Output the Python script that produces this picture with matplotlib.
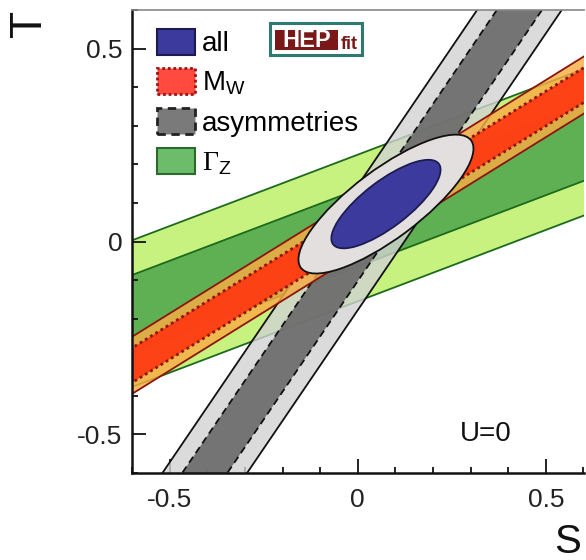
import numpy as np
import matplotlib
matplotlib.use('Agg')
import matplotlib.pyplot as plt
from matplotlib.patches import Ellipse, Patch, Rectangle

plt.rcParams['font.family'] = ['Liberation Sans', 'DejaVu Sans']
plt.rcParams['mathtext.fontset'] = 'custom'
plt.rcParams['mathtext.rm'] = 'Liberation Serif'
plt.rcParams['mathtext.sf'] = 'Liberation Sans'
plt.rcParams['mathtext.it'] = 'Liberation Sans:italic'

# ---------------- data ----------------
x_ticks = [-0.5, 0.0, 0.5]
x_ticklabels = ['-0.5', '0', '0.5']
y_ticks = [-0.5, 0.0, 0.5]
y_ticklabels = ['-0.5', '0', '0.5']

# Gamma_Z band: T = intercept + slope * S, half widths (95%, 68%)
gz_slope = 0.37
gz_intercept = 0.035
gz_halfwidth = [0.19, 0.10]

# M_W band: T = intercept + slope * S, half widths (95%, 68%)
mw_slope = 0.605
mw_intercept = 0.042
mw_halfwidth = [0.074, 0.045]

# asymmetries band: S = intercept + slope * T, half widths (95%, 68%)
asym_slope = 0.697
asym_intercept = 0.0115
asym_halfwidth = [0.1125, 0.06]

# combined fit ellipses (95%, 68%)
all_center = [0.075, 0.097]
all_semi_major = [0.28, 0.175]
all_semi_minor = [0.09, 0.06]
all_angle = [36.0, 36.5]

legend_labels = ['all', 'M$_\\mathsf{W}$', 'asymmetries', '$\\Gamma_\\mathsf{Z}$']

# ---------------- figure ----------------
fig = plt.figure(figsize=(5.86, 5.6), dpi=100)
ax = fig.add_axes([132 / 586, 1 - 473 / 560, (583.5 - 132) / 586, (473 - 10) / 560])
ax.set_xlim(-0.6, 0.6)
ax.set_ylim(-0.6, 0.6)

S = np.linspace(-0.8, 0.8, 500)
T = np.linspace(-0.8, 0.8, 500)

# Gamma_Z (green)
gz_cols = ['#c8f27f', '#5fb052']
for h, c in zip(gz_halfwidth, gz_cols):
    lo = gz_intercept + gz_slope * S - h
    hi = gz_intercept + gz_slope * S + h
    ax.fill_between(S, lo, hi, color=c, lw=0, zorder=1)
    ax.plot(S, lo, color='#1d6a1d', lw=1.3, zorder=1.1)
    ax.plot(S, hi, color='#1d6a1d', lw=1.3, zorder=1.1)

# asymmetries (gray)
as_cols = ['#d2d2d2', '#696969']
as_alpha = [0.8, 0.9]
for i, (h, c, a) in enumerate(zip(asym_halfwidth, as_cols, as_alpha)):
    lo = asym_intercept + asym_slope * T - h
    hi = asym_intercept + asym_slope * T + h
    ax.fill_betweenx(T, lo, hi, color=c, alpha=a, lw=0, zorder=2)
    ls = '-' if i == 0 else (0, (4, 2.5))
    ax.plot(lo, T, color='#111111', lw=1.3, ls=ls, zorder=2.1)
    ax.plot(hi, T, color='#111111', lw=1.3, ls=ls, zorder=2.1)

# M_W (orange / red)
mw_cols = ['#f9ad45', '#ff3a12']
mw_alpha = [0.82, 0.93]
for i, (h, c, a) in enumerate(zip(mw_halfwidth, mw_cols, mw_alpha)):
    lo = mw_intercept + mw_slope * S - h
    hi = mw_intercept + mw_slope * S + h
    ax.fill_between(S, lo, hi, color=c, alpha=a, lw=0, zorder=3)
    ls = '-' if i == 0 else (0, (1, 1.2))
    lw = 1.3 if i == 0 else 2.0
    ax.plot(S, lo, color='#8c150a', lw=lw, ls=ls, zorder=3.1)
    ax.plot(S, hi, color='#8c150a', lw=lw, ls=ls, zorder=3.1)

# all (ellipses)
ell_fc = ['#e3dfdf', '#3d3a9e']
ell_ec = ['#111111', '#1c1c50']
for a, b, ang, fc, ec in zip(all_semi_major, all_semi_minor, all_angle, ell_fc, ell_ec):
    ax.add_patch(Ellipse(all_center, 2 * a, 2 * b, angle=ang, fc=fc, ec=ec,
                         lw=1.3, zorder=4))

# axes styling
for side in ['left', 'bottom']:
    ax.spines[side].set_linewidth(1.8)
    ax.spines[side].set_color('#111111')
ax.spines['top'].set_linewidth(1.2)
ax.spines['top'].set_color('#888888')
ax.spines['right'].set_visible(False)
for sp in ax.spines.values():
    sp.set_zorder(6)

ax.set_xticks(x_ticks)
ax.set_xticklabels(x_ticklabels)
ax.set_yticks(y_ticks)
ax.set_yticklabels(y_ticklabels)
ax.set_xticks(np.arange(-0.6, 0.61, 0.1), minor=True)
ax.set_yticks(np.arange(-0.6, 0.61, 0.1), minor=True)
ax.tick_params(which='both', direction='in', top=False, right=False,
               colors='#111111', width=1.3, labelcolor='#222222', zorder=6)
ax.tick_params(which='major', length=10, labelsize=19)
ax.tick_params(which='minor', length=4.5)
ax.tick_params(axis='x', which='major', pad=11)
ax.tick_params(axis='y', which='major', pad=7)

# axis labels
fig.text(29 / 586, 1 - 23.5 / 560, 'T', rotation=90, fontsize=32,
         ha='center', va='center', color='#111111')
fig.text(568 / 586, 1 - 542 / 560, 'S', fontsize=29,
         ha='center', va='center', color='#111111')

ax.text(0.34, -0.5, 'U=0', fontsize=20, ha='center', va='center',
        color='#111111', zorder=7)

# legend
handles = [
    Patch(fc='#3d3a9e', ec='#1c1c50', lw=1.5),
    Patch(fc='#ff4a40', ec='#a01010', ls=(0, (1, 1)), lw=2.0),
    Patch(fc='#7a7a7a', ec='#222222', ls=(0, (3, 2)), lw=2.0),
    Patch(fc='#6cbc6c', ec='#2a6a2a', lw=1.5),
]
leg = ax.legend(handles, legend_labels, loc='upper left',
                bbox_to_anchor=((157 - 132) / 451.5, 1 - (29 - 10) / 463),
                frameon=False, fontsize=20, handlelength=1.37, handleheight=1.05,
                handletextpad=0.25, labelspacing=0.4, borderpad=0,
                borderaxespad=0)
leg.set_zorder(8)

# HEPfit logo
fig.patches.append(Rectangle((270 / 586, 1 - 55 / 560), 92 / 586, 32 / 560,
                             transform=fig.transFigure, fc='white', ec='#2f7a70',
                             lw=2.2, zorder=9))
fig.patches.append(Rectangle((275 / 586, 1 - 50 / 560), 63 / 586, 20 / 560,
                             transform=fig.transFigure, fc='#7a1818', ec='none',
                             zorder=10))
fig.text(306.5 / 586, 1 - 40.5 / 560, 'HEP', fontsize=17, fontweight='bold',
         color='white', ha='center', va='center', zorder=11)
fig.text(349 / 586, 1 - 44.5 / 560, 'fit', fontsize=13, fontweight='bold',
         color='#7a1818', ha='center', va='center', zorder=11)

fig.savefig('out.png', dpi=100)
